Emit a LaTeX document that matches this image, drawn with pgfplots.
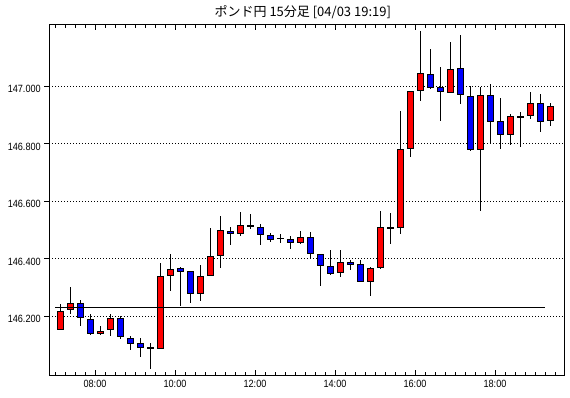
\documentclass[border=0pt]{standalone}
\usepackage{pgfplots}
\pgfplotsset{compat=1.18}
\usepackage{pgfplotstable}
\usepackage{fontspec}
\setmainfont{Liberation Sans}
\newfontfamily\tickfont[FakeStretch=0.87]{Liberation Sans}
\newfontfamily\cjk{Noto Sans CJK JP}

% rising candles (close > open)
\pgfplotstableread{
x o h l c
7.125 146.155 146.243 146.155 146.221
7.375 146.221 146.302 146.210 146.245
8.125 146.139 146.167 146.136 146.151
8.375 146.151 146.210 146.133 146.193
9.625 146.087 146.385 146.087 146.343
9.875 146.341 146.420 146.289 146.367
10.625 146.279 146.378 146.254 146.339
10.875 146.341 146.507 146.341 146.409
11.125 146.409 146.549 146.369 146.499
11.625 146.487 146.563 146.480 146.518
13.125 146.457 146.497 146.453 146.478
14.125 146.350 146.431 146.338 146.391
14.875 146.320 146.373 146.271 146.370
15.125 146.369 146.566 146.365 146.510
15.625 146.510 146.915 146.489 146.784
15.875 146.784 146.985 146.755 146.983
16.125 146.983 147.192 146.950 147.046
16.875 146.979 147.154 146.979 147.063
17.625 146.779 147.000 146.567 146.972
18.375 146.830 146.906 146.797 146.896
18.875 146.896 146.980 146.887 146.941
19.375 146.878 146.942 146.863 146.930
}\upT

% falling candles (close < open)
\pgfplotstableread{
x o h l c
7.625 146.245 146.257 146.167 146.193
7.875 146.193 146.210 146.136 146.139
8.625 146.193 146.200 146.122 146.126
8.875 146.127 146.133 146.084 146.105
9.125 146.110 146.127 146.059 146.092
10.125 146.367 146.371 146.236 146.355
10.375 146.358 146.358 146.247 146.279
11.375 146.499 146.511 146.449 146.487
12.125 146.513 146.521 146.449 146.482
12.375 146.482 146.490 146.459 146.466
12.875 146.471 146.479 146.435 146.457
13.375 146.478 146.493 146.404 146.419
13.625 146.419 146.419 146.306 146.374
13.875 146.374 146.431 146.344 146.347
14.375 146.391 146.398 146.361 146.381
14.625 146.381 146.398 146.320 146.320
16.375 147.043 147.133 146.992 146.995
16.625 146.998 147.067 146.880 146.981
17.125 147.063 147.178 146.938 146.972
17.375 146.969 147.003 146.776 146.779
17.875 146.972 147.007 146.802 146.878
18.125 146.878 146.960 146.783 146.830
19.125 146.941 146.973 146.843 146.878
}\downT

% doji candles (open = close)
\pgfplotstableread{
x o h l c
9.375 146.090 146.108 146.018 146.090
11.875 146.514 146.556 146.505 146.514
12.625 146.471 146.486 146.456 146.471
15.375 146.507 146.559 146.453 146.507
18.625 146.894 146.914 146.790 146.894
}\dojiT

\pgfplotsset{
  candlebar/.style 2 args={draw=none, mark=none,
    error bars/.cd, y dir=both, y explicit, error mark=none,
    error bar style={draw=#1, line width=#2}},
}

\begin{document}
\begin{tikzpicture}
\useasboundingbox (-49.3bp,-22.7bp) rectangle (520.7bp,375.3bp);
\begin{axis}[
  at={(0,0)}, anchor=south west,
  scale only axis, width=515bp, height=350.6bp,
  xmin=6.8575, xmax=19.7325, ymin=145.995, ymax=147.2145,
  axis line style={line width=0.8bp, black},
  tick align=inside, major tick length=5bp, minor tick length=3bp,
  tick style={black, line width=0.8bp},
  xtick={6,8,...,20},
  xticklabels={06:00,08:00,10:00,12:00,14:00,16:00,18:00,20:00},
  minor x tick num=7,
  ytick=\empty,
  minor ytick={146.1,146.3,146.5,146.7,146.9,147.1},
  extra y ticks={146.2,146.4,146.6,146.8,147.0},
  extra y tick labels={146.200,146.400,146.600,146.800,147.000},
  extra y tick style={tick align=outside, ytick pos=left, grid=major},
  major grid style={black, line width=0.8bp, dash pattern=on 1bp off 2bp},
  tick label style={font=\tickfont\fontsize{10.5bp}{12bp}\selectfont, text=black},
  xticklabel style={yshift=-1bp},
  yticklabel style={yshift=-3bp},
  title={\cjk ポンド円 15分足 [04/03 19:19]},
  title style={font=\fontsize{13bp}{15bp}\selectfont, at={(0.5,1)}, anchor=center, yshift=7bp, xshift=-4bp},
]
% wicks
\addplot[candlebar={black}{1bp}]
  table[x=x, y expr={(\thisrow{h}+\thisrow{l})/2}, y error expr={(\thisrow{h}-\thisrow{l})/2}] {\upT};
\addplot[candlebar={black}{1bp}]
  table[x=x, y expr={(\thisrow{h}+\thisrow{l})/2}, y error expr={(\thisrow{h}-\thisrow{l})/2}] {\downT};
\addplot[candlebar={black}{1bp}]
  table[x=x, y expr={(\thisrow{h}+\thisrow{l})/2}, y error expr={(\thisrow{h}-\thisrow{l})/2}] {\dojiT};
% body borders
\addplot[candlebar={black}{7bp}]
  table[x=x, y expr={(\thisrow{o}+\thisrow{c})/2}, y error expr={abs(\thisrow{c}-\thisrow{o})/2}] {\upT};
\addplot[candlebar={black}{7bp}]
  table[x=x, y expr={(\thisrow{o}+\thisrow{c})/2}, y error expr={abs(\thisrow{c}-\thisrow{o})/2}] {\downT};
\addplot[candlebar={black}{7bp}]
  table[x=x, y=o, y error expr={0.003}] {\dojiT};
% body fills
\addplot[candlebar={red}{5bp}]
  table[x=x, y expr={(\thisrow{o}+\thisrow{c})/2}, y error expr={abs(\thisrow{c}-\thisrow{o})/2-0.0035}] {\upT};
\addplot[candlebar={blue}{5bp}]
  table[x=x, y expr={(\thisrow{o}+\thisrow{c})/2}, y error expr={abs(\thisrow{c}-\thisrow{o})/2-0.0035}] {\downT};
% level line
\addplot[black, line width=1.2bp] coordinates {(7.0,146.23) (19.25,146.23)};
\end{axis}
\end{tikzpicture}
\end{document}
